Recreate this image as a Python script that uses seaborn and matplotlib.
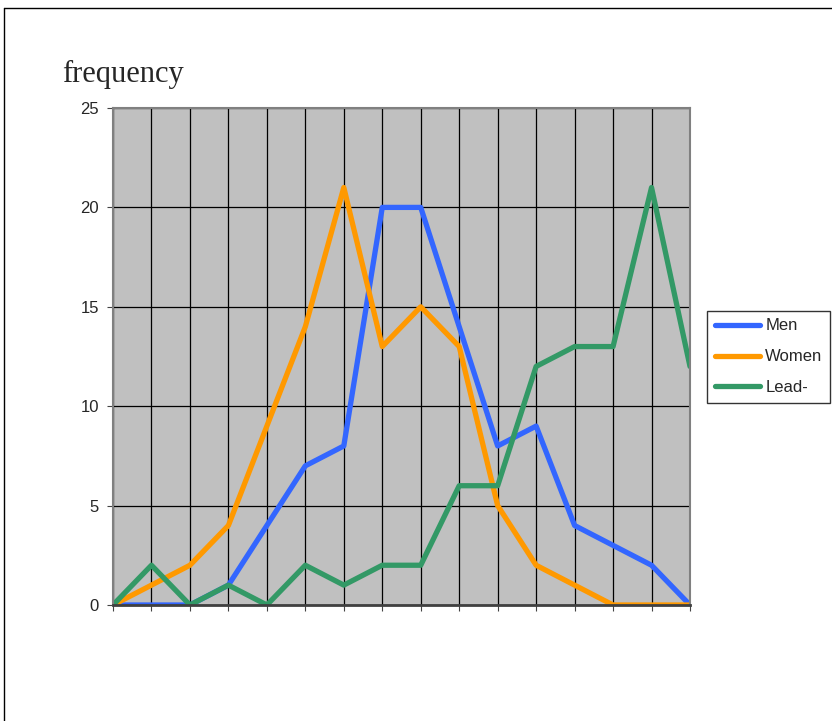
import pandas as pd
import matplotlib.pyplot as plt
import seaborn as sns

x = list(range(16))
men = [0, 0, 0, 1, 4, 7, 8, 20, 20, 14, 8, 9, 4, 3, 2, 0]
women = [0, 1, 2, 4, 9, 14, 21, 13, 15, 13, 5, 2, 1, 0, 0, 0]
lead = [0, 2, 0, 1, 0, 2, 1, 2, 2, 6, 6, 12, 13, 13, 21, 12]
series_names = ['Men', 'Women', 'Lead-']
y_ticks = [0, 5, 10, 15, 20, 25]

df = pd.DataFrame({
    'x': x * 3,
    'value': men + women + lead,
    'series': sum([[n] * len(x) for n in series_names], []),
})

sns.set_style('white')
plt.rcParams['font.family'] = ['Liberation Sans', 'DejaVu Sans']

fig = plt.figure(figsize=(8.32, 7.21), dpi=100)
ax = fig.add_axes([113 / 832, 1 - 605 / 721, 577 / 832, 497 / 721])
ax.set_facecolor('#C0C0C0')

palette = {'Men': '#3366FF', 'Women': '#FF9900', 'Lead-': '#339966'}
sns.lineplot(data=df, x='x', y='value', hue='series', palette=palette,
             linewidth=3.8, ax=ax, legend=True)

ax.set_xlim(0, 15)
ax.set_ylim(0, 25)
ax.set_xticks(x)
ax.set_xticklabels([])
ax.set_yticks(y_ticks)
ax.set_xlabel('')
ax.set_ylabel('')
ax.grid(True, color='black', linewidth=0.9)
ax.set_axisbelow(True)
ax.tick_params(axis='both', direction='out', length=4, width=0.8,
               color='#444444', labelsize=12, pad=6, left=True, bottom=True)
for s in ax.spines.values():
    s.set_color('#808080')
    s.set_linewidth(1.5)
ax.spines['bottom'].set_color('#404040')
ax.spines['bottom'].set_linewidth(2)

handles, labels = ax.get_legend_handles_labels()
ax.legend(handles, labels, loc='upper left',
          bbox_to_anchor=(707 / 832, 1 - 311 / 721),
          bbox_transform=fig.transFigure, frameon=True, fancybox=False,
          edgecolor='black', fontsize=12, handlelength=2.7, handletextpad=0.35,
          borderaxespad=0, labelspacing=0.95, borderpad=0.45)
ax.get_legend().get_frame().set_linewidth(1)

fig.text(62 / 832, 1 - 82 / 721, 'frequency', fontsize=22,
         family=['Liberation Serif', 'DejaVu Serif'])

# outer frame lines (left and top)
fig.add_artist(plt.Line2D([4 / 832, 4 / 832], [0, 1 - 8 / 721],
                          transform=fig.transFigure, color='black', linewidth=1))
fig.add_artist(plt.Line2D([4 / 832, 1], [1 - 8 / 721, 1 - 8 / 721],
                          transform=fig.transFigure, color='black', linewidth=1))

fig.savefig('out.png', dpi=100)
